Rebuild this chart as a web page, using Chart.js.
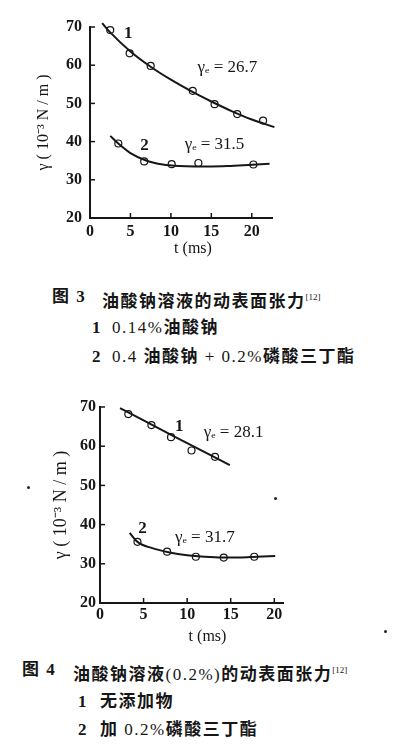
<!DOCTYPE html>
<html>
<head>
<meta charset="utf-8">
<script src="https://cdn.jsdelivr.net/npm/chart.js@4.4.1/dist/chart.umd.min.js"></script>
<style>
  body { margin: 0; width: 396px; height: 746px; background: #fff; position: relative; overflow: hidden; color: #161616; }
  canvas { position: absolute; left: 0; }
  #fig3 { top: 0; }
  #fig4 { top: 380px; }
  .cap { position: absolute; white-space: nowrap; font-family: "Liberation Serif", "Noto Sans CJK SC", serif; font-size: 17px; line-height: 20px; font-weight: bold; letter-spacing: 1.5px; }
  .cap .n { font-weight: normal; }
  .cap sup { font-size: 9px; font-weight: normal; letter-spacing: 0; vertical-align: 7px; }
  .speck { position: absolute; width: 3px; height: 3px; background: #222; border-radius: 2px; }
</style>
</head>
<body>
<canvas id="fig3" width="290" height="265"></canvas>
<canvas id="fig4" width="300" height="270"></canvas>

<div class="cap" style="left:52px;top:287px">图 3</div>
<div class="cap" style="left:102px;top:287px">油酸钠溶液的动表面张力<sup>[12]</sup></div>
<div class="cap" style="left:92px;top:318px">1</div>
<div class="cap" style="left:112px;top:318px"><span class="n">0.14%</span>油酸钠</div>
<div class="cap" style="left:92px;top:347px">2</div>
<div class="cap" style="left:112px;top:347px"><span class="n">0.4 </span>油酸钠<span class="n"> + 0.2%</span>磷酸三丁酯</div>

<div class="cap" style="left:22px;top:660px">图 4</div>
<div class="cap" style="left:73px;top:660px">油酸钠溶液<span class="n">(0.2%)</span>的动表面张力<sup>[12]</sup></div>
<div class="cap" style="left:78px;top:692px">1</div>
<div class="cap" style="left:100px;top:692px">无添加物</div>
<div class="cap" style="left:78px;top:720px">2</div>
<div class="cap" style="left:100px;top:720px">加<span class="n"> 0.2%</span>磷酸三丁酯</div>

<div class="speck" style="left:27px;top:486px"></div>
<div class="speck" style="left:274px;top:497px"></div>
<div class="speck" style="left:384px;top:630px"></div>

<script>
// fig 3: curves (t in ms, gamma in 10^-3 N/m)
const f3LineT1 = [1.5, 2.5, 5, 7.5, 10, 12.5, 15, 17.5, 20, 22.8];
const f3LineG1 = [71, 68.6, 63.6, 59.6, 56.2, 53.2, 50.5, 48.0, 45.8, 43.8];
const f3PtsT1 = [2.5, 4.9, 7.5, 12.7, 15.4, 18.2, 21.4];
const f3PtsG1 = [69.2, 63.1, 59.8, 53.3, 49.8, 47.2, 45.5];
const f3LineT2 = [2.5, 3.5, 5, 7, 9, 11, 13, 15, 17, 19, 22.2];
const f3LineG2 = [41.5, 39.5, 37.0, 35.0, 34.0, 33.6, 33.5, 33.5, 33.6, 33.8, 34.2];
const f3PtsT2 = [3.5, 6.7, 10.1, 13.4, 20.2];
const f3PtsG2 = [39.5, 34.8, 34.1, 34.4, 34.0];

// fig 4
const f4LineT1 = [2.3, 8.6, 14.9];
const f4LineG1 = [69.7, 62.4, 55.2];
const f4PtsT1 = [3.25, 5.9, 8.15, 10.5, 13.2];
const f4PtsG1 = [68.2, 65.4, 62.3, 58.9, 57.3];
const f4LineT2 = [3.4, 4.3, 6, 8, 10, 12, 14, 16, 18, 20.1];
const f4LineG2 = [37.9, 35.6, 34.0, 32.9, 32.2, 31.8, 31.6, 31.6, 31.8, 32.0];
const f4PtsT2 = [4.3, 7.7, 11.0, 14.2, 17.7];
const f4PtsG2 = [35.6, 33.1, 31.8, 31.6, 31.8];

const yTicks = [20, 30, 40, 50, 60, 70];
const xTicks = [0, 5, 10, 15, 20];

const ink = '#161616';
const pairs = (ts, gs) => ts.map((t, i) => ({ x: t, y: gs[i] }));

// short tick marks pointing into the plot
const innerTicks = {
  id: 'innerTicks',
  afterDraw(chart) {
    const { ctx, scales: { x, y } } = chart;
    ctx.save();
    ctx.strokeStyle = ink;
    ctx.lineWidth = 1.5;
    x.ticks.forEach(t => {
      const px = x.getPixelForValue(t.value);
      ctx.beginPath(); ctx.moveTo(px, y.bottom); ctx.lineTo(px, y.bottom - 5); ctx.stroke();
    });
    y.ticks.forEach(t => {
      const py = y.getPixelForValue(t.value);
      ctx.beginPath(); ctx.moveTo(x.left, py); ctx.lineTo(x.left + 5, py); ctx.stroke();
    });
    ctx.restore();
  }
};

// curve numbers and gamma_e notes, placed in data units
const notes = {
  id: 'notes',
  afterDatasetsDraw(chart, args, opts) {
    const { ctx, scales: { x, y } } = chart;
    ctx.save();
    ctx.fillStyle = ink;
    ctx.textAlign = 'left';
    ctx.textBaseline = 'middle';
    opts.items.forEach(n => {
      ctx.font = n.font;
      ctx.fillText(n.text, x.getPixelForValue(n.t), y.getPixelForValue(n.g));
    });
    ctx.restore();
  }
};

function makeChart(id, o) {
  const lineSet = (ts, gs) => ({
    data: pairs(ts, gs), showLine: true, borderColor: ink, borderWidth: 2,
    pointRadius: 0, cubicInterpolationMode: 'monotone', clip: false
  });
  const ptSet = (ts, gs) => ({
    data: pairs(ts, gs), showLine: false, pointRadius: 3.5, pointBorderWidth: 1.2,
    pointBorderColor: ink, pointBackgroundColor: '#fff', clip: false
  });
  const tickFont = { family: 'Liberation Serif', size: 16, weight: 'bold' };
  return new Chart(document.getElementById(id), {
    type: 'scatter',
    data: {
      datasets: [
        lineSet(o.l1[0], o.l1[1]), lineSet(o.l2[0], o.l2[1]),
        ptSet(o.p1[0], o.p1[1]), ptSet(o.p2[0], o.p2[1])
      ]
    },
    options: {
      responsive: false,
      animation: false,
      events: [],
      layout: { padding: o.pad },
      plugins: {
        legend: { display: false },
        tooltip: { enabled: false },
        notes: { items: o.notes }
      },
      scales: {
        x: {
          type: 'linear', min: 0, max: o.xMax,
          afterBuildTicks: s => { s.ticks = xTicks.map(v => ({ value: v })); },
          afterFit: s => { s.height = o.xH; },
          grid: { display: false, drawTicks: false },
          border: { color: ink, width: 2 },
          ticks: { color: ink, font: tickFont, padding: o.xPad, maxRotation: 0 },
          title: { display: true, text: o.xTitle, color: ink, font: { family: 'Liberation Serif', size: 16 }, padding: { bottom: o.xTitlePad } }
        },
        y: {
          type: 'linear', min: 20, max: 70,
          afterBuildTicks: s => { s.ticks = yTicks.map(v => ({ value: v })); },
          afterFit: s => { s.width = o.yW; },
          grid: { display: false, drawTicks: false },
          border: { color: ink, width: 2 },
          ticks: { color: ink, font: tickFont, padding: o.yPad },
          title: { display: true, text: o.yTitle, color: ink, font: { family: 'Liberation Serif', size: o.yTitleSize }, padding: { top: o.yTitlePad } }
        }
      }
    },
    plugins: [innerTicks, notes]
  });
}

const numFont = 'bold 17px "Liberation Serif"';
const geFont = '17px "Liberation Serif", "DejaVu Serif"';

makeChart('fig3', {
  l1: [f3LineT1, f3LineG1], l2: [f3LineT2, f3LineG2],
  p1: [f3PtsT1, f3PtsG1], p2: [f3PtsT2, f3PtsG2],
  xMax: 22.5, pad: { top: 27, right: 18, bottom: 7, left: 0 },
  xH: 40, yW: 90, xPad: 4, yPad: 8, xTitlePad: 0, yTitlePad: 34, yTitleSize: 16,
  xTitle: '\u2002\u2002\u2002t (ms)', yTitle: 'γ ( 10⁻³ N / m )',
  notes: [
    { t: 4.2, g: 68.4, text: '1', font: numFont },
    { t: 13.3, g: 59.3, text: 'γₑ = 26.7', font: geFont },
    { t: 6.2, g: 38.9, text: '2', font: numFont },
    { t: 11.7, g: 39.2, text: 'γₑ = 31.5', font: geFont }
  ]
});

makeChart('fig4', {
  l1: [f4LineT1, f4LineG1], l2: [f4LineT2, f4LineG2],
  p1: [f4PtsT1, f4PtsG1], p2: [f4PtsT2, f4PtsG2],
  xMax: 21, pad: { top: 27, right: 17, bottom: 4, left: 0 },
  xH: 43, yW: 100, xPad: 2, yPad: 4, xTitlePad: 0, yTitlePad: 50, yTitleSize: 18,
  xTitle: '\u2002\u2002\u2002\u2002t (ms)', yTitle: 'γ ( 10⁻³ N / m )',
  notes: [
    { t: 8.6, g: 64.9, text: '1', font: numFont },
    { t: 11.9, g: 63.4, text: 'γₑ = 28.1', font: geFont },
    { t: 4.4, g: 39.1, text: '2', font: numFont },
    { t: 8.6, g: 36.8, text: 'γₑ = 31.7', font: geFont }
  ]
});
</script>
</body>
</html>
